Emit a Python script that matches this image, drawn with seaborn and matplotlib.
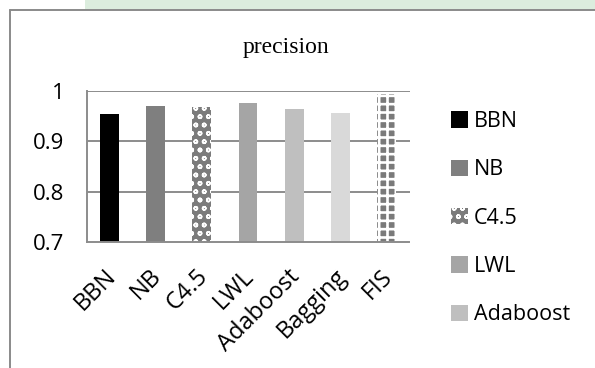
import matplotlib
matplotlib.use("Agg")
import matplotlib.pyplot as plt
from matplotlib.patches import Patch, Rectangle
from matplotlib.lines import Line2D
from matplotlib.transforms import ScaledTranslation
import seaborn as sns
import pandas as pd

methods = ["BBN", "NB", "C4.5", "LWL", "Adaboost", "Bagging", "FIS"]
precision = [0.954, 0.970, 0.968, 0.976, 0.964, 0.956, 0.993]
colors = ["#000000", "#7f7f7f", "#7c7c7c", "#a5a5a5", "#bfbfbf", "#d9d9d9", "#7a7a7a"]
hatches = [None, None, "oo", None, None, None, "++"]
hatch_widths = [None, None, 1.1, None, None, None, 1.9]
legend_methods = ["BBN", "NB", "C4.5", "LWL", "Adaboost"]
yticks = [0.7, 0.8, 0.9, 1.0]
ytick_labels = ["0.7", "0.8", "0.9", "1"]

sns.set_theme(style="white")
plt.rcParams["font.family"] = ["Open Sans", "DejaVu Sans"]
plt.rcParams["text.color"] = "black"
plt.rcParams["xtick.color"] = "black"
plt.rcParams["ytick.color"] = "black"

W, H = 595, 368
fig = plt.figure(figsize=(W / 100, H / 100), dpi=100)
fig.patch.set_facecolor("white")

# faint green band along the top edge
fig.patches.append(Rectangle((85 / W, 1 - 9 / H), 1, 9 / H, transform=fig.transFigure,
                             facecolor="#dcedde", edgecolor="none", zorder=0))
# chart frame
fig.add_artist(Line2D([10 / W, 10 / W], [0, 1 - 10 / H], transform=fig.transFigure,
                      color="#8a8a8a", lw=1.4))
fig.add_artist(Line2D([10 / W, 1], [1 - 10 / H, 1 - 10 / H], transform=fig.transFigure,
                      color="#8a8a8a", lw=1.4))

ax = fig.add_axes([86.5 / W, 1 - 242.3 / H, (409.5 - 86.5) / W, (242.3 - 90.7) / H])
df = pd.DataFrame({"method": methods, "precision": precision})
sns.barplot(data=df, x="method", y="precision", hue="method", palette=colors,
            width=0.41, legend=False, ax=ax, saturation=1)


def apply_hatch(patch, hatch, lw):
    patch.set_linewidth(0)
    if hatch:
        patch.set_hatch(hatch)
        patch.set_edgecolor("white")
        if hasattr(patch, "set_hatch_linewidth"):
            patch.set_hatch_linewidth(lw)
        else:
            patch._hatch_linewidth = lw


for bar, h, lw in zip(ax.patches, hatches, hatch_widths):
    apply_hatch(bar, h, lw)

ax.set_ylim(0.7, 1.0)
ax.set_xlim(-0.5, len(methods) - 0.5)
ax.set_yticks(yticks)
ax.set_yticklabels(ytick_labels, fontsize=16)
ax.set_xlabel("")
ax.set_ylabel("")

grid_c = "#8c8c8c"
for y in yticks[1:]:
    ax.axhline(y, color=grid_c, lw=1.4, zorder=0.5)
for side in ["top", "right"]:
    ax.spines[side].set_visible(False)
for side in ["left", "bottom"]:
    ax.spines[side].set_color(grid_c)
    ax.spines[side].set_linewidth(1.4)

ax.tick_params(axis="y", length=8, width=1.4, color=grid_c, direction="out", pad=8)
ax.set_xticks(range(len(methods)))
ax.set_xticklabels(methods, rotation=45, ha="right", rotation_mode="anchor", fontsize=17)
ax.tick_params(axis="x", which="major", length=0, pad=16)
shift = ScaledTranslation(-6 / 100, 0, fig.dpi_scale_trans)
for lbl in ax.get_xticklabels():
    lbl.set_transform(lbl.get_transform() + shift)
ax.set_xticks([i - 0.5 for i in range(len(methods) + 1)], minor=True)
ax.tick_params(axis="x", which="minor", length=8, width=1.4, color=grid_c, direction="out")

fig.text(286 / W, 1 - 48 / H, "precision", ha="center", va="center",
         fontsize=17, family="Liberation Serif", color="black")

handles = []
for m in legend_methods:
    i = methods.index(m)
    p = Patch(facecolor=colors[i], edgecolor="white" if hatches[i] else colors[i],
              hatch=hatches[i], linewidth=0)
    handles.append(p)
leg = fig.legend(handles, legend_methods, loc="upper left",
                 bbox_to_anchor=(451 / W, 1 - 111 / H),
                 frameon=False, fontsize=15.5, borderpad=0, borderaxespad=0,
                 labelspacing=1.27, handlelength=0.8, handleheight=0.8, handletextpad=0.25)
for p, m in zip(leg.get_patches(), legend_methods):
    i = methods.index(m)
    apply_hatch(p, hatches[i], hatch_widths[i])
    if not hatches[i]:
        p.set_edgecolor(colors[i])

fig.savefig("out.png", dpi=100, facecolor="white")
